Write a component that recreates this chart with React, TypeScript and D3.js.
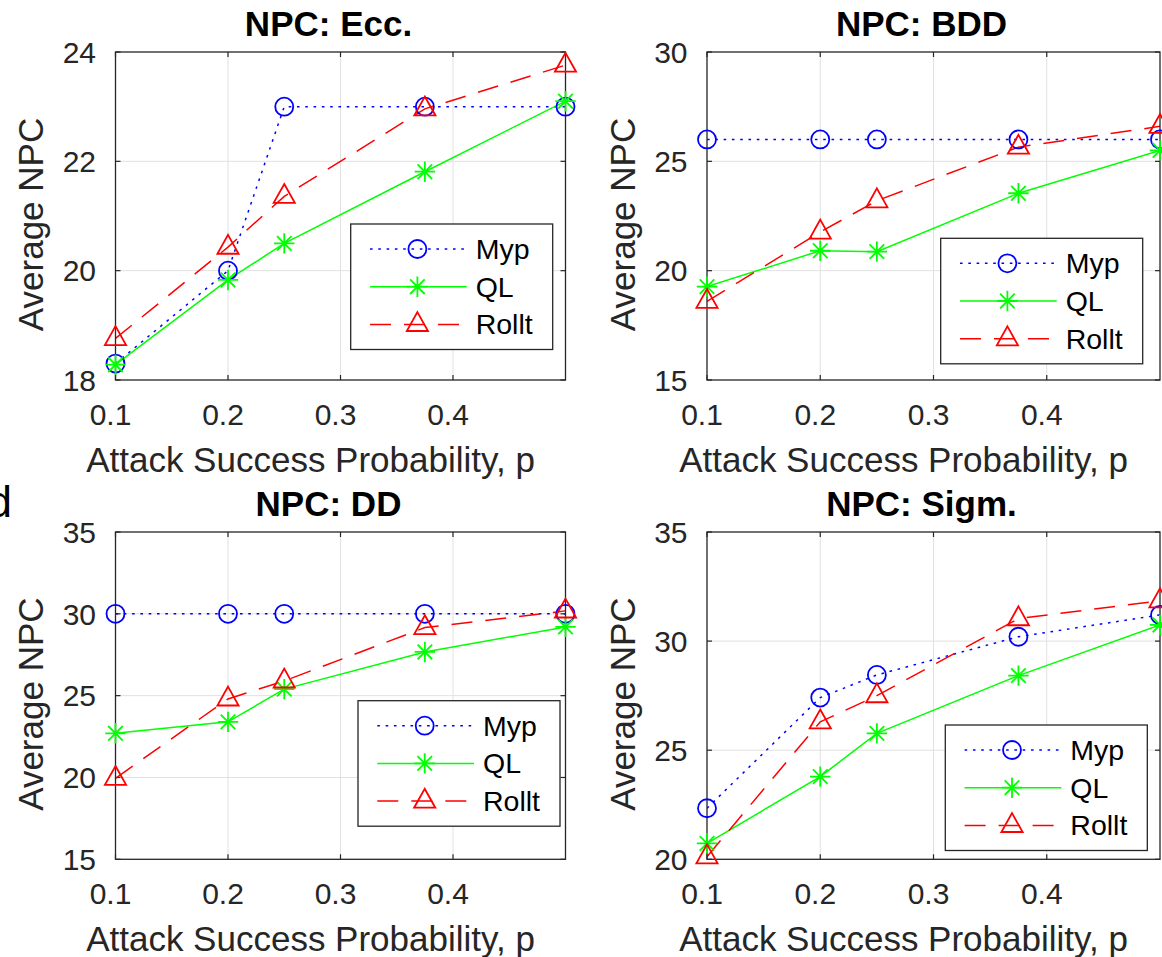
import React from 'react';
import * as d3 from 'd3';

// ---------------- data ----------------
const attackProb = [0.1, 0.2, 0.25, 0.375, 0.5];
const xTickValues = [0.1, 0.2, 0.3, 0.4];
const xDomain = [0.1, 0.5];
const seriesNames = ['Myp', 'QL', 'Rollt'];
const panelTitles = ['NPC: Ecc.', 'NPC: BDD', 'NPC: DD', 'NPC: Sigm.'];

const eccMyp = [18.3, 20.0, 23.0, 23.0, 23.0];
const eccQL = [18.28, 19.83, 20.5, 21.81, 23.1];
const eccRollt = [18.76, 20.43, 21.36, 22.96, 23.76];
const eccYTicks = [18, 20, 22, 24];

const bddMyp = [26, 26, 26, 26, 26];
const bddQL = [19.27, 20.91, 20.87, 23.54, 25.5];
const bddRollt = [18.6, 21.77, 23.2, 25.65, 26.6];
const bddYTicks = [15, 20, 25, 30];

const ddMyp = [30, 30, 30, 30, 30];
const ddQL = [22.7, 23.4, 25.4, 27.67, 29.2];
const ddRollt = [19.95, 24.8, 25.9, 29.16, 30.18];
const ddYTicks = [15, 20, 25, 30, 35];

const sigMyp = [22.34, 27.41, 28.45, 30.2, 31.2];
const sigQL = [20.73, 23.79, 25.77, 28.42, 30.74];
const sigRollt = [20.12, 26.3, 27.5, 31.03, 31.85];
const sigYTicks = [20, 25, 30, 35];

const xLabel = 'Attack Success Probability, p';
const yLabel = 'Average NPC';

// ---------------- styles / layout ----------------
const FONT = "'Liberation Sans', Arial, Helvetica, sans-serif";
const AXIS_COLOR = '#262626';
const GRID_COLOR = '#e1e1e1';

const seriesStyles = [
  { color: '#0000ff', dash: '2.6,5.7', marker: 'circle' },
  { color: '#00ff00', dash: null, marker: 'star' },
  { color: '#ff0000', dash: '21,13', marker: 'triangle' },
];

const panels = [
  { title: panelTitles[0], series: [eccMyp, eccQL, eccRollt], yTicks: eccYTicks, box: [115.5, 52, 565.5, 380], legend: [350.7, 224] },
  { title: panelTitles[1], series: [bddMyp, bddQL, bddRollt], yTicks: bddYTicks, box: [707, 52, 1160, 380], legend: [940.7, 238.3] },
  { title: panelTitles[2], series: [ddMyp, ddQL, ddRollt], yTicks: ddYTicks, box: [115.5, 532, 565.5, 859.3], legend: [358, 700.7] },
  { title: panelTitles[3], series: [sigMyp, sigQL, sigRollt], yTicks: sigYTicks, box: [707, 532, 1160, 859.3], legend: [945.3, 725] },
];

function Marker({ type, x, y, color }: { type: string; x: number; y: number; color: string }) {
  if (type === 'circle') {
    return <circle cx={x} cy={y} r={9} fill="none" stroke={color} strokeWidth={1.8} />;
  }
  if (type === 'star') {
    const h = 10.2, d = 7.3;
    const p = `M${x - h},${y}L${x + h},${y}M${x},${y - h}L${x},${y + h}M${x - d},${y - d}L${x + d},${y + d}M${x - d},${y + d}L${x + d},${y - d}`;
    return <path d={p} stroke={color} strokeWidth={1.8} fill="none" />;
  }
  const p = `M${x},${y - 12.3}L${x + 10.6},${y + 6.6}L${x - 10.6},${y + 6.6}Z`;
  return <path d={p} stroke={color} strokeWidth={1.8} fill="none" strokeLinejoin="miter" />;
}

function Panel({ cfg, idx }: { cfg: any; idx: number }) {
  const [x0, y0, x1, y1] = cfg.box;
  const yDom = [cfg.yTicks[0], cfg.yTicks[cfg.yTicks.length - 1]];
  const xs = d3.scaleLinear().domain(xDomain).range([x0, x1]);
  const ys = d3.scaleLinear().domain(yDom).range([y1, y0]);
  const line = d3.line<number>().x((_, i) => xs(attackProb[i])).y((v) => ys(v));
  const cx = (x0 + x1) / 2;
  const cy = (y0 + y1) / 2;
  const clipId = `clip${idx}`;
  const tickLen = 5;
  const [lx, ly] = cfg.legend;
  const lw = 202, lh = 125.5;
  return (
    <g>
      <defs>
        <clipPath id={clipId}>
          <rect x={x0} y={y0} width={x1 - x0} height={y1 - y0} />
        </clipPath>
      </defs>
      <rect x={x0} y={y0} width={x1 - x0} height={y1 - y0} fill="#fff" />
      {/* grid */}
      {xTickValues.filter((t) => t > xDomain[0] && t < xDomain[1]).map((t) => (
        <line key={'gx' + t} x1={xs(t)} x2={xs(t)} y1={y0} y2={y1} stroke={GRID_COLOR} strokeWidth={1} />
      ))}
      {cfg.yTicks.filter((t: number) => t > yDom[0] && t < yDom[1]).map((t: number) => (
        <line key={'gy' + t} x1={x0} x2={x1} y1={ys(t)} y2={ys(t)} stroke={GRID_COLOR} strokeWidth={1} />
      ))}
      {/* ticks */}
      {xTickValues.map((t) => (
        <g key={'tx' + t}>
          <line x1={xs(t)} x2={xs(t)} y1={y1} y2={y1 - tickLen} stroke={AXIS_COLOR} strokeWidth={1.2} />
          <line x1={xs(t)} x2={xs(t)} y1={y0} y2={y0 + tickLen} stroke={AXIS_COLOR} strokeWidth={1.2} />
          <text x={xs(t) - 5} y={y1 + 45} textAnchor="middle" fontSize={30} fill={AXIS_COLOR} fontFamily={FONT}>
            {d3.format('.1f')(t)}
          </text>
        </g>
      ))}
      {cfg.yTicks.map((t: number) => (
        <g key={'ty' + t}>
          <line x1={x0} x2={x0 + tickLen} y1={ys(t)} y2={ys(t)} stroke={AXIS_COLOR} strokeWidth={1.2} />
          <line x1={x1} x2={x1 - tickLen} y1={ys(t)} y2={ys(t)} stroke={AXIS_COLOR} strokeWidth={1.2} />
          <text x={x0 - 19.5} y={ys(t)} dy="0.36em" textAnchor="end" fontSize={30} fill={AXIS_COLOR} fontFamily={FONT}>
            {t}
          </text>
        </g>
      ))}
      {/* lines */}
      <g clipPath={`url(#${clipId})`}>
        {cfg.series.map((vals: number[], si: number) => (
          <path key={'l' + si} d={line(vals) || ''} fill="none" stroke={seriesStyles[si].color} strokeWidth={1.5}
            strokeDasharray={seriesStyles[si].dash || undefined} />
        ))}
      </g>
      {/* box */}
      <rect x={x0} y={y0} width={x1 - x0} height={y1 - y0} fill="none" stroke={AXIS_COLOR} strokeWidth={1.3} />
      {/* markers */}
      {cfg.series.map((vals: number[], si: number) => (
        <g key={'m' + si}>
          {vals.map((v, i) => (
            <Marker key={i} type={seriesStyles[si].marker} x={xs(attackProb[i])} y={ys(v)} color={seriesStyles[si].color} />
          ))}
        </g>
      ))}
      {/* title */}
      <text x={cx - 12} y={y0 - 16.5} textAnchor="middle" fontSize={35} fontWeight="bold" fill="#000" fontFamily={FONT}>
        {cfg.title}
      </text>
      {/* axis labels */}
      <text x={cx - 30} y={y1 + 91.5} textAnchor="middle" fontSize={35} fill={AXIS_COLOR} fontFamily={FONT}>
        {xLabel}
      </text>
      <text transform={`translate(${x0 - 72.5},${cy + 8.5}) rotate(-90)`} textAnchor="middle" fontSize={35} fill={AXIS_COLOR} fontFamily={FONT}>
        {yLabel}
      </text>
      {/* legend */}
      <rect x={lx} y={ly} width={lw} height={lh} fill="#fff" stroke={AXIS_COLOR} strokeWidth={1.3} />
      {seriesNames.map((name, si) => {
        const ey = ly + 25 + si * 37.7;
        return (
          <g key={'lg' + si}>
            <line x1={lx + 19.3} x2={lx + 116} y1={ey} y2={ey} stroke={seriesStyles[si].color} strokeWidth={1.5}
              strokeDasharray={seriesStyles[si].dash || undefined} />
            <Marker type={seriesStyles[si].marker} x={lx + 66.7} y={ey} color={seriesStyles[si].color} />
            <text x={lx + 125} y={ey} dy="0.35em" fontSize={28.5} fill="#000" fontFamily={FONT}>{name}</text>
          </g>
        );
      })}
    </g>
  );
}

export default function App() {
  return (
    <svg width={1162} height={957} style={{ position: 'absolute', left: 0, top: 0, display: 'block', background: '#fff' }}>
      <rect x={0} y={0} width={1162} height={957} fill="#fff" />
      <text x={12} y={517} textAnchor="end" fontSize={44} fill="#000" fontFamily={FONT}>d</text>
      {panels.map((p, i) => (
        <Panel key={i} cfg={p} idx={i} />
      ))}
    </svg>
  );
}
